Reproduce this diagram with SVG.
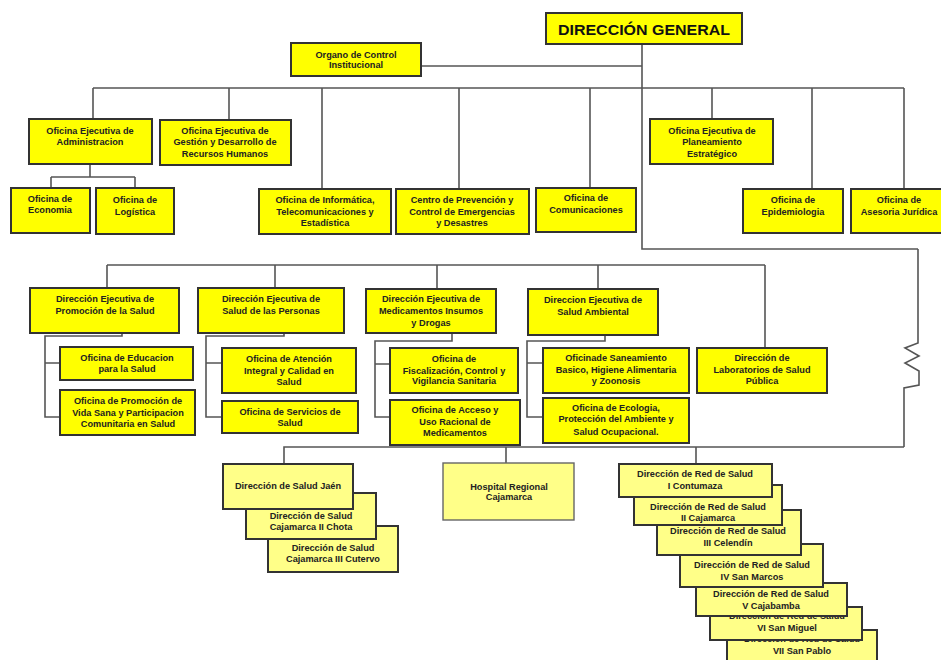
<svg xmlns="http://www.w3.org/2000/svg" width="941" height="660" viewBox="0 0 941 660">
<style>
.b{fill:#ffff00;stroke:#333;stroke-width:2}
.p{fill:#ffff88;stroke:#333;stroke-width:2}
.h{fill:#ffff88;stroke:#666;stroke-width:1.4}
.t{font-family:"Liberation Sans",Arial,sans-serif;font-size:9.2px;font-weight:bold;fill:#222;text-anchor:middle}
.g{font-family:"Liberation Sans",Arial,sans-serif;font-size:15px;font-weight:bold;fill:#111;text-anchor:middle}
.c{fill:none;stroke:#555;stroke-width:1.6}
</style>
<rect width="941" height="660" fill="#fff"/>
<g id="connectors">
<path class="c" d="M642,44 V249 H918"/>
<path class="c" d="M421,66 H642"/>
<path class="c" d="M93,88 H904 M93,88 V119 M229,88 V119 M322,88 V189 M459,88 V189 M590,88 V188 M712,88 V119 M812,88 V189 M904,88 V189"/>
<path class="c" d="M90,164 V177 M51,177 H135 M51,177 V188 M135,177 V188"/>
<path class="c" d="M107,265 H765 M107,265 V288 M275,265 V288 M437,265 V289 M598,265 V289 M765,265 V348"/>
<path class="c" d="M122,333 V336 H45 V417 H60 M45,363 H60"/>
<path class="c" d="M284,333 V336 H206 V417 H222 M206,363 H222"/>
<path class="c" d="M452,333 V341 H375 V417 H390 M375,364 H390"/>
<path class="c" d="M605,335 V341 H527 V417 H543 M527,363 H543"/>
<path class="c" d="M284,464 V447 H904 M506,447 V463 M696,447 V464"/>
<path class="c" d="M918,249 V343 L905,348 L919,356 L905,363 L919,371 V385 L904,388 V447"/>
</g>
<g id="direccion-general"><rect class="b" x="546" y="13" width="196" height="31"/><text class="g" x="644" y="35" textLength="172" lengthAdjust="spacingAndGlyphs">DIRECCIÓN GENERAL</text></g>
<g id="organo-control"><rect class="b" x="291" y="43" width="130" height="33"/><text class="t" x="356" y="58">Organo de Control</text><text class="t" x="356" y="68">Institucional</text></g>
<g id="of-administracion"><rect class="b" x="29" y="119" width="123" height="45"/><text class="t" x="90" y="134">Oficina Ejecutiva de</text><text class="t" x="90" y="145">Administracion</text></g>
<g id="of-gestion"><rect class="b" x="160" y="120" width="131" height="45"/><text class="t" x="225" y="134">Oficina Ejecutiva de</text><text class="t" x="225" y="145">Gestión y Desarrollo de</text><text class="t" x="225" y="157">Recursos Humanos</text></g>
<g id="of-economia"><rect class="b" x="11" y="188" width="79" height="45"/><text class="t" x="50" y="202">Oficina de</text><text class="t" x="50" y="213">Economia</text></g>
<g id="of-logistica"><rect class="b" x="96" y="188" width="78" height="46"/><text class="t" x="135" y="203">Oficina de</text><text class="t" x="135" y="215">Logística</text></g>
<g id="of-informatica"><rect class="b" x="259" y="189" width="132" height="45"/><text class="t" x="325" y="203">Oficina de Informática,</text><text class="t" x="325" y="215">Telecomunicaciones y</text><text class="t" x="325" y="226">Estadística</text></g>
<g id="centro-prevencion"><rect class="b" x="396" y="189" width="133" height="45"/><text class="t" x="462" y="203">Centro de Prevención y</text><text class="t" x="462" y="215">Control de Emergencias</text><text class="t" x="462" y="226">y Desastres</text></g>
<g id="of-comunicaciones"><rect class="b" x="536" y="188" width="100" height="44"/><text class="t" x="586" y="201">Oficina de</text><text class="t" x="586" y="213">Comunicaciones</text></g>
<g id="of-planeamiento"><rect class="b" x="650" y="119" width="123" height="45"/><text class="t" x="712" y="134">Oficina Ejecutiva de</text><text class="t" x="712" y="145">Planeamiento</text><text class="t" x="712" y="157">Estratégico</text></g>
<g id="of-epidemiologia"><rect class="b" x="743" y="189" width="100" height="44"/><text class="t" x="793" y="203">Oficina de</text><text class="t" x="793" y="215">Epidemiologia</text></g>
<g id="of-asesoria"><rect class="b" x="851" y="189" width="95" height="44"/><text class="t" x="899" y="203">Oficina de</text><text class="t" x="899" y="215">Asesoria Jurídica</text></g>
<g id="de-promocion"><rect class="b" x="30" y="288" width="149" height="45"/><text class="t" x="105" y="302">Dirección Ejecutiva de</text><text class="t" x="105" y="314">Promoción de la Salud</text></g>
<g id="de-personas"><rect class="b" x="198" y="288" width="146" height="45"/><text class="t" x="271" y="302">Dirección Ejecutiva de</text><text class="t" x="271" y="314">Salud de las Personas</text></g>
<g id="de-medicamentos"><rect class="b" x="366" y="289" width="130" height="44"/><text class="t" x="431" y="302">Dirección Ejecutiva de</text><text class="t" x="431" y="314">Medicamentos Insumos</text><text class="t" x="431" y="326">y Drogas</text></g>
<g id="de-ambiental"><rect class="b" x="528" y="289" width="130" height="46"/><text class="t" x="593" y="303">Direccion Ejecutiva de</text><text class="t" x="593" y="315">Salud Ambiental</text></g>
<g id="dir-laboratorios"><rect class="b" x="697" y="348" width="130" height="45"/><text class="t" x="762" y="361">Dirección de</text><text class="t" x="762" y="373">Laboratorios de Salud</text><text class="t" x="762" y="384">Pública</text></g>
<g id="of-educacion"><rect class="b" x="60" y="347" width="133" height="33"/><text class="t" x="127" y="361">Oficina de Educacion</text><text class="t" x="127" y="372">para la Salud</text></g>
<g id="of-vida-sana"><rect class="b" x="60" y="390" width="135" height="45"/><text class="t" x="128" y="404">Oficina de Promoción de</text><text class="t" x="128" y="416">Vida Sana y Participacion</text><text class="t" x="128" y="427">Comunitaria en Salud</text></g>
<g id="of-atencion"><rect class="b" x="222" y="348" width="134" height="45"/><text class="t" x="289" y="362">Oficina de Atención</text><text class="t" x="289" y="374">Integral y Calidad en</text><text class="t" x="289" y="385">Salud</text></g>
<g id="of-servicios"><rect class="b" x="222" y="401" width="136" height="32"/><text class="t" x="290" y="415">Oficina de Servicios de</text><text class="t" x="290" y="426">Salud</text></g>
<g id="of-fiscalizacion"><rect class="b" x="390" y="348" width="128" height="45"/><text class="t" x="454" y="362">Oficina de</text><text class="t" x="454" y="374">Fiscalización, Control y</text><text class="t" x="454" y="384">Vigilancia Sanitaria</text></g>
<g id="of-acceso"><rect class="b" x="390" y="400" width="130" height="45"/><text class="t" x="455" y="413">Oficina de Acceso y</text><text class="t" x="455" y="425">Uso Racional de</text><text class="t" x="455" y="436">Medicamentos</text></g>
<g id="of-saneamiento"><rect class="b" x="543" y="348" width="146" height="45"/><text class="t" x="616" y="361">Oficinade Saneamiento</text><text class="t" x="616" y="373">Basico, Higiene Alimentaria</text><text class="t" x="616" y="384">y Zoonosis</text></g>
<g id="of-ecologia"><rect class="b" x="543" y="398" width="146" height="45"/><text class="t" x="616" y="411">Oficina de Ecologia,</text><text class="t" x="616" y="422">Protección del Ambiente y</text><text class="t" x="616" y="435">Salud Ocupacional.</text></g>
<g id="ds-cutervo"><rect class="p" x="268" y="526" width="130" height="46"/><text class="t" x="333" y="551">Dirección de Salud</text><text class="t" x="333" y="562">Cajamarca III Cutervo</text></g>
<g id="ds-chota"><rect class="p" x="246" y="493" width="130" height="46"/><text class="t" x="311" y="519">Dirección de Salud</text><text class="t" x="311" y="530">Cajamarca II Chota</text></g>
<g id="ds-jaen"><rect class="p" x="223" y="464" width="130" height="45"/><text class="t" x="288" y="489">Dirección de Salud Jaén</text></g>
<g id="hospital"><rect class="h" x="443" y="463" width="131" height="57"/><text class="t" x="509" y="490">Hospital Regional</text><text class="t" x="509" y="500">Cajamarca</text></g>
<g id="red-7"><rect class="p" x="727" y="630" width="150" height="40"/><text class="t" x="802" y="642">Dirección de Red de Salud</text><text class="t" x="802" y="654">VII San Pablo</text></g>
<g id="red-6"><rect class="p" x="710" y="607" width="152" height="33"/><text class="t" x="787" y="619">Dirección de Red de Salud</text><text class="t" x="787" y="631">VI San Miguel</text></g>
<g id="red-5"><rect class="p" x="696" y="583" width="151" height="33"/><text class="t" x="771" y="597">Dirección de Red de Salud</text><text class="t" x="771" y="609">V  Cajabamba</text></g>
<g id="red-4"><rect class="p" x="680" y="544" width="143" height="43"/><text class="t" x="752" y="568">Dirección de Red de Salud</text><text class="t" x="752" y="580">IV San Marcos</text></g>
<g id="red-3"><rect class="p" x="657" y="510" width="144" height="45"/><text class="t" x="728" y="534">Dirección de Red de Salud</text><text class="t" x="728" y="546">III Celendín</text></g>
<g id="red-2"><rect class="p" x="634" y="485" width="148" height="40"/><text class="t" x="708" y="510">Dirección de Red de Salud</text><text class="t" x="708" y="521">II Cajamarca</text></g>
<g id="red-1"><rect class="p" x="619" y="464" width="153" height="33"/><text class="t" x="695" y="477">Dirección de Red de Salud</text><text class="t" x="695" y="489">I Contumaza</text></g>
</svg>
